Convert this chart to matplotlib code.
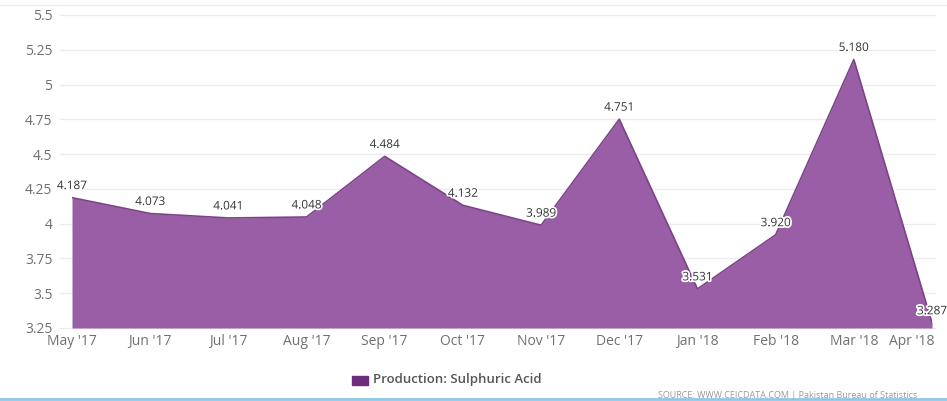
import matplotlib.pyplot as plt
import matplotlib.patheffects as pe
import matplotlib.transforms as mtransforms
import numpy as np

months = ["May '17", "Jun '17", "Jul '17", "Aug '17", "Sep '17", "Oct '17",
          "Nov '17", "Dec '17", "Jan '18", "Feb '18", "Mar '18", "Apr '18"]
production = [4.187, 4.073, 4.041, 4.048, 4.484, 4.132,
              3.989, 4.751, 3.531, 3.920, 5.180, 3.287]
y_ticks = [3.25, 3.5, 3.75, 4, 4.25, 4.5, 4.75, 5, 5.25, 5.5]
y_tick_labels = ["3.25", "3.5", "3.75", "4", "4.25", "4.5", "4.75", "5", "5.25", "5.5"]

plt.rcParams["font.family"] = ["Open Sans", "DejaVu Sans"]

fill_color = "#9a5ea6"
edge_color = "#7c4488"

fig = plt.figure(figsize=(9.47, 4.01), dpi=100)
ax = fig.add_axes([72 / 947, 1 - 328 / 401, 860 / 947, 313 / 401])

x = np.arange(len(months))
ax.fill_between(x, 3.25, production, color=fill_color, lw=0, zorder=2)
ax.plot(x, production, color=edge_color, lw=1.2, zorder=3)

ax.set_xlim(0, len(months) - 1)
ax.set_ylim(3.25, 5.5)

# light horizontal grid, slightly wider than the plotted area
for t in y_ticks:
    ax.plot([-0.014, 1.004], [t, t], transform=ax.get_yaxis_transform(),
            color="#ececec", lw=1, zorder=1, clip_on=False)

ax.set_yticks(y_ticks)
ax.set_yticklabels(y_tick_labels)
ax.set_xticks(x)
ax.set_xticklabels(months)
ax.tick_params(axis="both", length=0, labelsize=10, colors="#707070")
ax.tick_params(axis="y", pad=14)
ax.tick_params(axis="x", pad=4)
for s in ax.spines.values():
    s.set_visible(False)

# keep the last month label inside the figure
last = ax.get_xticklabels()[-1]
last.set_transform(last.get_transform() +
                   mtransforms.ScaledTranslation(-0.2, 0, fig.dpi_scale_trans))

for xi, v in zip(x, production):
    ax.annotate(f"{v:.3f}", (xi, v), xytext=(0, 4), textcoords="offset points",
                ha="center", va="bottom", fontsize=8.5, color="#333333", zorder=5,
                path_effects=[pe.withStroke(linewidth=2.5, foreground="white")])

# legend
fig.patches.append(plt.Rectangle((352 / 947, 1 - 385 / 401), 16 / 947, 9 / 401,
                                 transform=fig.transFigure, color="#6e2c7c"))
fig.text(373 / 947, 1 - 380 / 401, "Production: Sulphuric Acid", fontsize=9.5,
         fontweight="semibold", color="#555555", va="center", ha="left")

fig.text(917 / 947, 1 - 395 / 401,
         "SOURCE: WWW.CEICDATA.COM | Pakistan Bureau of Statistics",
         fontsize=6.5, color="#999999", ha="right", va="center")

# top and bottom border lines
fig.add_artist(plt.Line2D([0, 1], [1 - 5 / 401, 1 - 5 / 401],
                          transform=fig.transFigure, color="#eeeeee", lw=1))
fig.add_artist(plt.Line2D([0, 1], [1 - 399 / 401, 1 - 399 / 401],
                          transform=fig.transFigure, color="#8ec8e8", lw=2))

fig.savefig("out.png", dpi=100)
